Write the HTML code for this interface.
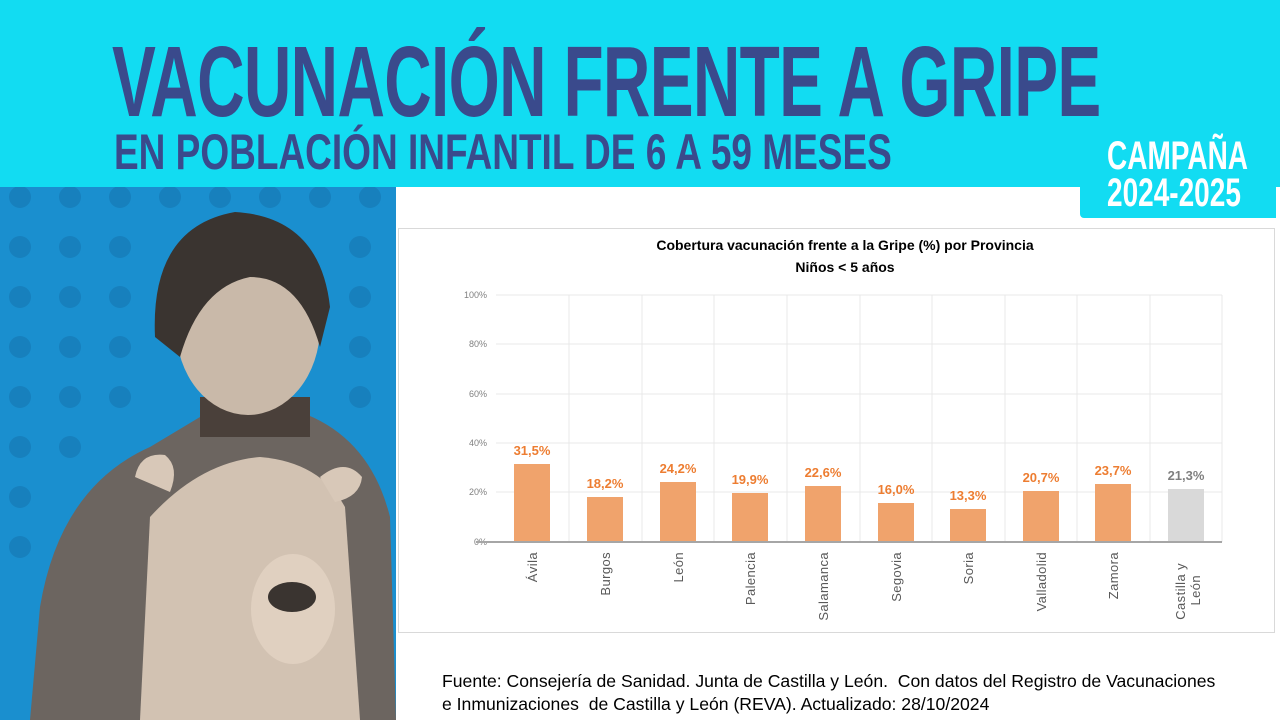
<!DOCTYPE html>
<html><head><meta charset="utf-8"><style>
body{margin:0;width:1280px;height:720px;overflow:hidden;background:#fff;font-family:"Liberation Sans",sans-serif;position:relative}
.ban{position:absolute;left:0;top:0;width:1280px;height:187px;background:#12dcf2}
.camp{position:absolute;left:1080px;top:130px;width:196px;height:88px;background:#12dcf2;border-radius:0 0 0 4px}
.t1{position:absolute;left:112px;top:32px;font:bold 100px/1 "Liberation Sans",sans-serif;color:#3a4a8c;transform:scaleX(0.657);transform-origin:left top;white-space:nowrap;letter-spacing:-1px}
.t2{position:absolute;left:114px;top:127px;font:bold 50px/1 "Liberation Sans",sans-serif;color:#3a4a8c;transform:scaleX(0.74);transform-origin:left top;white-space:nowrap}
.c{position:absolute;left:1107px;color:#fff;font:bold 40px/1 "Liberation Sans",sans-serif;transform:scaleX(0.7);transform-origin:left top;white-space:nowrap}
.chart{position:absolute;left:398px;top:228px;width:877px;height:405px;border:1px solid #d9d9d9;box-sizing:border-box}
.src{position:absolute;left:442px;top:670px;font-size:17.6px;line-height:23px;color:#000;white-space:nowrap}
</style></head><body>
<div class="ban"></div>
<div class="camp"></div>
<div class="t1">VACUNACIÓN FRENTE A GRIPE</div>
<div class="t2">EN POBLACIÓN INFANTIL DE 6 A 59 MESES</div>
<div class="c" style="top:136px">CAMPAÑA</div>
<div class="c" style="top:173px">2024-2025</div>
<svg style="position:absolute;left:0;top:187px" width="396" height="533">
<rect width="396" height="533" fill="#1a8fcf"/>
<g fill="#1780bd">
<circle cx="20" cy="10" r="11"/><circle cx="70" cy="10" r="11"/><circle cx="120" cy="10" r="11"/><circle cx="170" cy="10" r="11"/><circle cx="220" cy="10" r="11"/><circle cx="270" cy="10" r="11"/><circle cx="320" cy="10" r="11"/><circle cx="370" cy="10" r="11"/>
<circle cx="20" cy="60" r="11"/><circle cx="70" cy="60" r="11"/><circle cx="120" cy="60" r="11"/><circle cx="360" cy="60" r="11"/>
<circle cx="20" cy="110" r="11"/><circle cx="70" cy="110" r="11"/><circle cx="120" cy="110" r="11"/><circle cx="360" cy="110" r="11"/>
<circle cx="20" cy="160" r="11"/><circle cx="70" cy="160" r="11"/><circle cx="120" cy="160" r="11"/><circle cx="360" cy="160" r="11"/>
<circle cx="20" cy="210" r="11"/><circle cx="70" cy="210" r="11"/><circle cx="120" cy="210" r="11"/><circle cx="360" cy="210" r="11"/>
<circle cx="20" cy="260" r="11"/><circle cx="70" cy="260" r="11"/><circle cx="20" cy="310" r="11"/><circle cx="20" cy="360" r="11"/>
</g>
<path d="M30 533 L40 420 Q60 300 150 260 L200 230 L300 225 Q370 250 390 330 L396 533Z" fill="#6c6560"/>
<path d="M140 533 L150 330 Q200 275 260 270 Q320 275 345 320 L360 533Z" fill="#d2c2b2"/>
<path d="M135 290 Q140 265 165 268 Q180 280 170 305Z" fill="#d8c8b8"/>
<path d="M320 290 Q345 270 362 290 Q360 310 335 315Z" fill="#d8c8b8"/>
<ellipse cx="293" cy="422" rx="42" ry="55" fill="#e0d0c0"/>
<ellipse cx="292" cy="410" rx="24" ry="15" fill="#3a3430"/>
<rect x="200" y="210" width="110" height="40" fill="#4a403a"/>
<ellipse cx="248" cy="140" rx="72" ry="88" fill="#c9b9a9"/>
<path d="M155 150 Q150 40 235 25 Q320 30 330 120 L320 160 Q300 90 250 90 Q200 100 180 170Z" fill="#3a3430"/>
</svg>
<div class="chart"></div>
<svg style="position:absolute;left:0;top:0" width="1280" height="720" font-family="Liberation Sans,sans-serif">
<text x="845" y="250" text-anchor="middle" font-size="14" font-weight="bold">Cobertura vacunación frente a la Gripe (%) por Provincia</text>
<text x="845" y="272" text-anchor="middle" font-size="14" font-weight="bold">Niños &lt; 5 años</text>
<g stroke="#e8e8e8" stroke-width="1">
<line x1="496" y1="295" x2="1222" y2="295"/><line x1="496" y1="344" x2="1222" y2="344"/><line x1="496" y1="394" x2="1222" y2="394"/><line x1="496" y1="443" x2="1222" y2="443"/><line x1="496" y1="492" x2="1222" y2="492"/>
<line x1="569" y1="295" x2="569" y2="542"/><line x1="642" y1="295" x2="642" y2="542"/><line x1="714" y1="295" x2="714" y2="542"/><line x1="787" y1="295" x2="787" y2="542"/><line x1="860" y1="295" x2="860" y2="542"/><line x1="932" y1="295" x2="932" y2="542"/><line x1="1005" y1="295" x2="1005" y2="542"/><line x1="1077" y1="295" x2="1077" y2="542"/><line x1="1150" y1="295" x2="1150" y2="542"/><line x1="1222" y1="295" x2="1222" y2="542"/>
</g>
<g font-size="9" fill="#808080" text-anchor="end">
<text x="487" y="298">100%</text><text x="487" y="347">80%</text><text x="487" y="397">60%</text><text x="487" y="446">40%</text><text x="487" y="495">20%</text><text x="487" y="545">0%</text>
</g>
<g fill="#f0a36c">
<rect x="514" y="464" width="36" height="78"/><rect x="587" y="497" width="36" height="45"/><rect x="660" y="482" width="36" height="60"/><rect x="732" y="493" width="36" height="49"/><rect x="805" y="486" width="36" height="56"/><rect x="878" y="503" width="36" height="39"/><rect x="950" y="509" width="36" height="33"/><rect x="1023" y="491" width="36" height="51"/><rect x="1095" y="484" width="36" height="58"/>
</g>
<rect x="1168" y="489" width="36" height="53" fill="#d9d9d9"/>
<line x1="476" y1="542" x2="1222" y2="542" stroke="#a6a6a6" stroke-width="2"/>
<g font-size="13" font-weight="bold" fill="#ed7d31" text-anchor="middle">
<text x="532" y="455">31,5%</text><text x="605" y="488">18,2%</text><text x="678" y="473">24,2%</text><text x="750" y="484">19,9%</text><text x="823" y="477">22,6%</text><text x="896" y="494">16,0%</text><text x="968" y="500">13,3%</text><text x="1041" y="482">20,7%</text><text x="1113" y="475">23,7%</text>
<text x="1186" y="480" fill="#7f7f7f">21,3%</text>
</g>
<g font-size="13" fill="#595959" text-anchor="end" letter-spacing="0.4">
<text transform="translate(537,552) rotate(-90)">Ávila</text>
<text transform="translate(610,552) rotate(-90)">Burgos</text>
<text transform="translate(683,552) rotate(-90)">León</text>
<text transform="translate(755,552) rotate(-90)">Palencia</text>
<text transform="translate(828,552) rotate(-90)">Salamanca</text>
<text transform="translate(901,552) rotate(-90)">Segovia</text>
<text transform="translate(973,552) rotate(-90)">Soria</text>
<text transform="translate(1046,552) rotate(-90)">Valladolid</text>
<text transform="translate(1118,552) rotate(-90)">Zamora</text>
<text transform="translate(1185,563) rotate(-90)">Castilla y</text>
<text transform="translate(1200,575) rotate(-90)">León</text>
</g>
</svg>
<div class="src">Fuente: Consejería de Sanidad. Junta de Castilla y León.&nbsp; Con datos del Registro de Vacunaciones<br>e Inmunizaciones&nbsp; de Castilla y León (REVA). Actualizado: 28/10/2024</div>
</body></html>
